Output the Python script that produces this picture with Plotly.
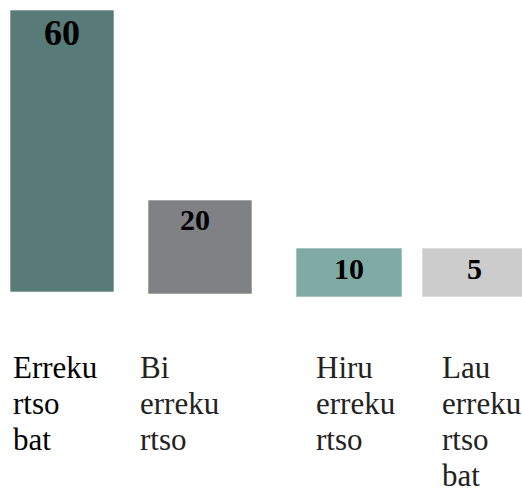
import plotly.graph_objects as go

# ---- data ----
category_lines = [
    ["Erreku", "rtso", "bat"],
    ["Bi", "erreku", "rtso"],
    ["Hiru", "erreku", "rtso"],
    ["Lau", "erreku", "rtso", "bat"],
]
values = [60, 20, 10, 5]
# drawn bar heights / bases in the picture's own (non-proportional) units
bar_heights = [282, 94, 49, 49]
bar_bases = [198, 196, 193, 193]

# ---- layout constants ----
W, H = 522, 490
bar_centers = [62, 200, 349, 474.5]
bar_widths = [104, 104, 106, 105]
bar_colors = ["#587B78", "#808185", "#80ABA5", "#CCCCCC"]
label_left = [11, 138, 314, 440]
label_colors = ["#000000", "#222222", "#222222", "#222222"]
value_sizes = [36, 30, 30, 30]
value_offset = [23, 19, 20, 20]
value_xshift = [0, -5, 0, 0]
first_baseline = 377
line_step = 36
label_font = "Liberation Serif, Times New Roman, serif"

fig = go.Figure()
fig.add_trace(go.Bar(
    x=bar_centers,
    y=bar_heights,
    base=bar_bases,
    width=bar_widths,
    marker=dict(color=bar_colors, line=dict(width=1, color="rgba(255,255,255,0.6)")),
    hoverinfo="skip",
    cliponaxis=True,
))

annotations = []
for i, v in enumerate(values):
    top = bar_bases[i] + bar_heights[i]
    annotations.append(dict(
        x=bar_centers[i], y=top - value_offset[i], xref="x", yref="y",
        xshift=value_xshift[i],
        text=f"<b>{v}</b>", showarrow=False, xanchor="center", yanchor="middle",
        font=dict(family=label_font, size=value_sizes[i], color="#000000"),
    ))

for i, lines in enumerate(category_lines):
    for j, word in enumerate(lines):
        baseline_px = first_baseline + j * line_step
        annotations.append(dict(
            x=label_left[i], y=H - (baseline_px - 10), xref="x", yref="y",
            text=word, showarrow=False, xanchor="left", yanchor="middle",
            font=dict(family=label_font, size=31, color=label_colors[i]),
        ))

fig.update_layout(
    width=W, height=H,
    margin=dict(l=0, r=0, t=0, b=0),
    paper_bgcolor="white", plot_bgcolor="white",
    showlegend=False,
    xaxis=dict(range=[0, W], visible=False, fixedrange=True),
    yaxis=dict(range=[0, H], visible=False, fixedrange=True),
    annotations=annotations,
)

fig.write_html(
    "out.html",
    config={"displayModeBar": False},
    post_script="document.body.style.margin='0';document.body.style.overflow='hidden';",
)
